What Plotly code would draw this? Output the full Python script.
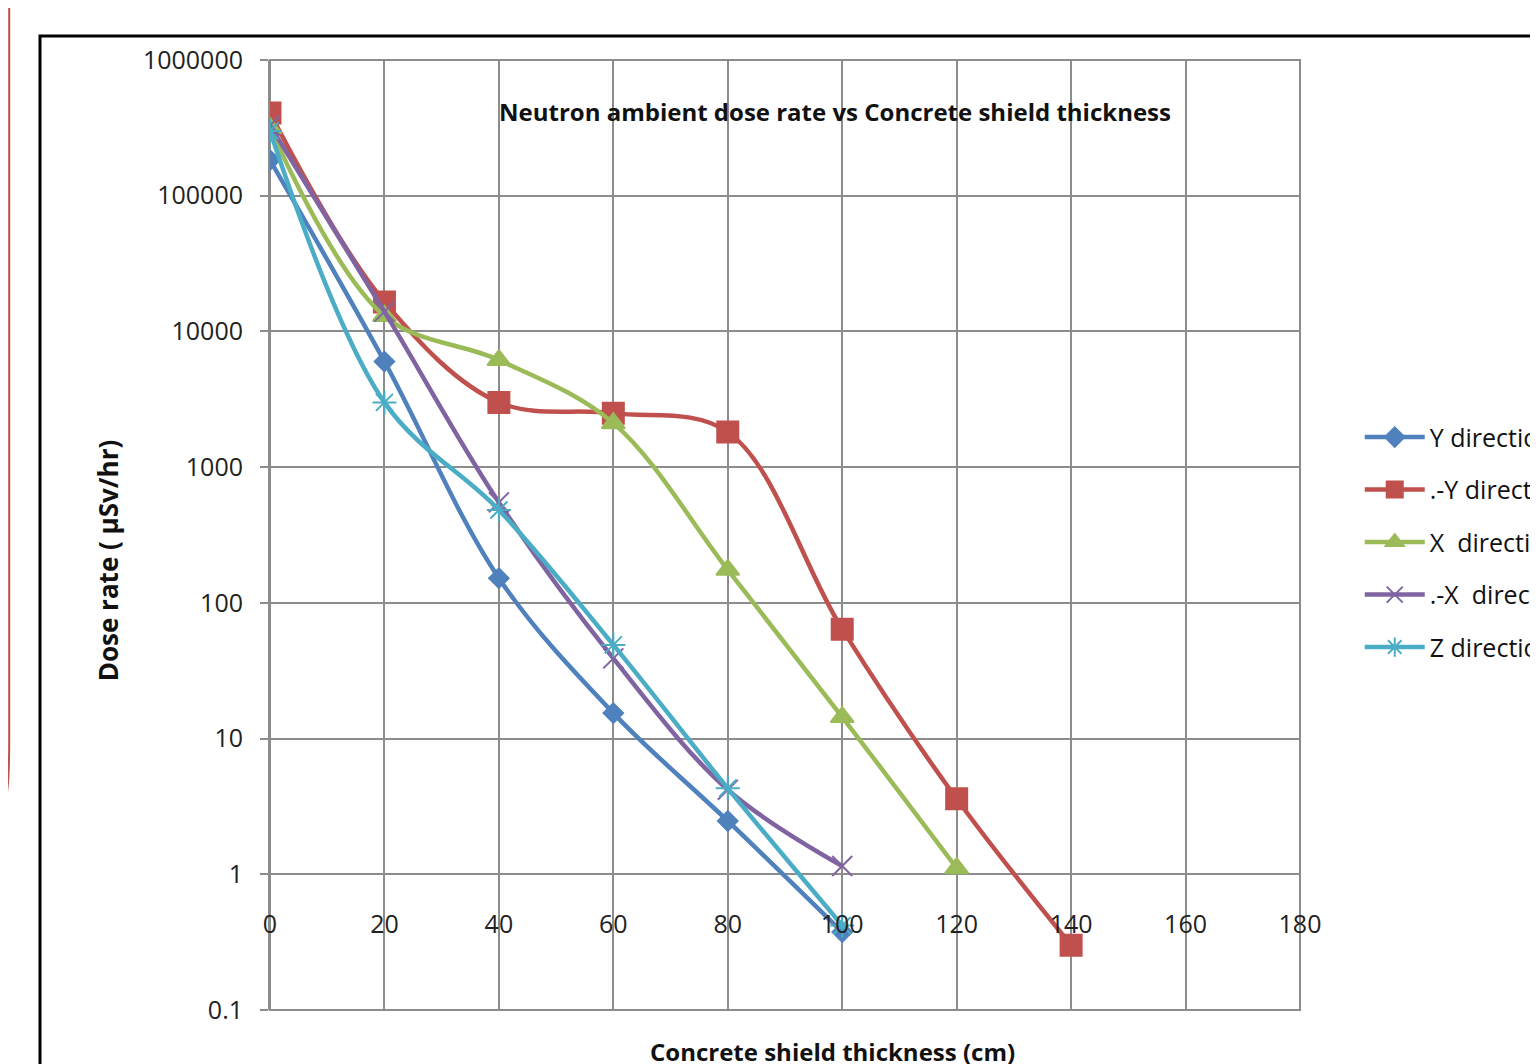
import plotly.graph_objects as go

thickness = [0, 20, 40, 60, 80, 100, 120, 140]

series_names = ["Y direction", ".-Y direction", "X  direction", ".-X  direction", "Z direction"]
y_dir = [183000, 6000, 152, 15.4, 2.47, 0.375]
neg_y_dir = [407000, 16500, 3000, 2500, 1815, 64, 3.6, 0.30]
x_dir = [315000, 13000, 6150, 2110, 175, 14.4, 1.11]
neg_x_dir = [330000, 14000, 550, 39, 4.2, 1.15]
z_dir = [300000, 3000, 483, 49, 4.3, 0.42]

y_tick_vals = [0.1, 1, 10, 100, 1000, 10000, 100000, 1000000]
y_tick_text = ["0.1", "1", "10", "100", "1000", "10000", "100000", "1000000"]
x_tick_vals = [0, 20, 40, 60, 80, 100, 120, 140, 160, 180]

colors = ["#4F81BD", "#C0504D", "#9BBB59", "#8064A2", "#4BACC6"]
symbols = ["diamond", "square", "triangle-up", "x-thin-open", "asterisk-open"]
msizes = [15, 21, 20, 20, 20]
mline = ["#4F81BD", "#C0504D", "#9BBB59", "#A996C6", "#8ED0E4"]

FONT = "Open Sans"

fig = go.Figure()
all_y = [y_dir, neg_y_dir, x_dir, neg_x_dir, z_dir]
for i, (name, ys) in enumerate(zip(series_names, all_y)):
    fig.add_trace(go.Scatter(
        x=thickness[:len(ys)], y=ys, name=name, mode="lines+markers",
        line=dict(color=colors[i], width=4.5, shape="spline", smoothing=1),
        marker=dict(symbol=symbols[i], size=msizes[i], color=colors[i],
                    line=dict(color=mline[i], width=2)),
        legendgroup=f"g{i}",
    ))

grid = "#8C8C8C"
fig.update_layout(
    width=1538, height=1064,
    margin=dict(l=262, r=246, t=52, b=62, autoexpand=False),
    paper_bgcolor="white", plot_bgcolor="white",
    font=dict(family=FONT, size=22, color="#222222"),
    showlegend=True,
    legend=dict(x=1.058, y=0.627, xanchor="left", yanchor="top",
                font=dict(family=FONT, size=25, color="#111111"),
                tracegroupgap=17, itemwidth=60, bgcolor="rgba(0,0,0,0)"),
    xaxis=dict(range=[0, 180], tickvals=x_tick_vals, showgrid=True, gridcolor=grid, gridwidth=2,
               zeroline=False, showline=False, anchor="free", position=1/7,
               ticks="", ticklabelstandoff=33, tickfont=dict(size=25, color="#222222")),
    yaxis=dict(type="log", range=[-1, 6], tickvals=y_tick_vals, ticktext=y_tick_text,
               showgrid=True, gridcolor=grid, gridwidth=2, zeroline=False,
               showline=True, linecolor=grid, linewidth=2,
               ticks="outside", ticklen=8, tickcolor=grid, tickwidth=2,
               ticklabelstandoff=12, tickfont=dict(size=25, color="#222222")),
    annotations=[
        dict(text="<b>Neutron ambient dose rate vs Concrete shield thickness</b>",
             xref="paper", yref="paper", x=0.5485, y=0.9463, showarrow=False,
             xanchor="center", yanchor="middle", font=dict(family=FONT, size=24, color="#111111")),
        dict(text="<b>Dose rate ( µSv/hr)</b>", textangle=-90,
             xref="paper", yref="paper", x=-0.157, y=0.4737, showarrow=False,
             xanchor="center", yanchor="middle", font=dict(family=FONT, size=26, color="#111111")),
        dict(text="<b>Concrete shield thickness (cm)</b>",
             xref="paper", yref="paper", x=0.5466, y=-0.0442, showarrow=False,
             xanchor="center", yanchor="middle", font=dict(family=FONT, size=24, color="#111111")),
    ],
    shapes=[
        dict(type="rect", xref="x domain", yref="y domain", x0=0, x1=1, y0=0, y1=1,
             line=dict(color=grid, width=2), layer="below"),
        dict(type="rect", xref="paper", yref="paper", x0=-0.2233, x1=1.25, y0=-0.1, y1=1.0253,
             line=dict(color="black", width=3)),
        dict(type="path", xref="paper", yref="paper",
             path="M -0.2532 1.09 L -0.2532 0.2842 Q -0.2532 0.2400 -0.2560 0.225",
             line=dict(color="#C0504D", width=2)),
    ],
)

fig.write_html("out.html")
